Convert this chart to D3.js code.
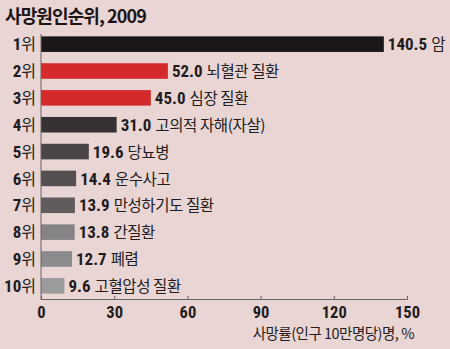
<!DOCTYPE html>
<html><head><meta charset="utf-8">
<script src="https://cdn.jsdelivr.net/npm/d3@7"></script>
<style>
body{margin:0;background:#e9d5d4;}
svg{display:block;}
</style></head>
<body>
<script>
const ranks = ["1","2","3","4","5","6","7","8","9","10"];
const causes = ["암","뇌혈관 질환","심장 질환","고의적 자해(자살)","당뇨병","운수사고","만성하기도 질환","간질환","폐렴","고혈압성 질환"];
const values = [140.5,52.0,45.0,31.0,19.6,14.4,13.9,13.8,12.7,9.6];
const colors = ["#1b1617","#d42a2b","#d42a2b","#363132","#4a4647","#545051","#605c5d","#858386","#8b8a8d","#9b9a9d"];
const ticks = [0,30,60,90,120,150];
const title = "사망원인순위, 2009";
const axisTitle = "사망률(인구 10만명당)명, %";

const W=450,H=349;
const svg=d3.select("body").append("svg").attr("width",W).attr("height",H);
svg.append("rect").attr("width",W).attr("height",H).attr("fill","#e9d5d4");

const x=d3.scaleLinear().domain([0,150]).range([41,407]);
const y=d3.scaleBand().domain(ranks).range([31,299]).paddingInner(0.42).paddingOuter(0.2);

const numFont="'Liberation Sans Narrow','Roboto Condensed','DejaVu Sans Condensed',sans-serif";
const krFont="'Noto Sans CJK KR',sans-serif";

svg.append("text").attr("x",5).attr("y",23)
  .attr("font-family",krFont).attr("font-weight",700).attr("font-size",18)
  .attr("fill","#1a1617").attr("letter-spacing",-0.9).text(title);

// bars
svg.selectAll("rect.bar").data(values).enter().append("rect")
  .attr("x",x(0)).attr("y",(d,i)=>y(ranks[i]))
  .attr("width",d=>x(d)-x(0)).attr("height",y.bandwidth())
  .attr("fill",(d,i)=>colors[i]);

// axes lines
svg.append("line").attr("x1",x(0)).attr("x2",x(0)).attr("y1",34).attr("y2",300)
  .attr("stroke","#6a6264").attr("stroke-width",1);
const xAxis=d3.axisBottom(x).tickValues(ticks).tickSize(-3).tickPadding(7);
const gx=svg.append("g").attr("transform","translate(0,299)").call(xAxis);
gx.select(".domain").attr("stroke","#6a6264");
gx.selectAll(".tick line").attr("stroke","#6a6264");
gx.selectAll("text").attr("font-family",numFont).attr("font-weight",700)
  .attr("font-size",16.5).attr("fill","#221c1d");

// rank labels
const rl=svg.selectAll("text.rank").data(ranks).enter().append("text")
  .attr("x",36).attr("y",r=>y(r)+y.bandwidth()/2).attr("dy","0.38em")
  .attr("text-anchor","end").attr("fill","#221c1d");
rl.append("tspan").attr("font-family",numFont).attr("font-weight",700).attr("font-size",17).text(r=>r);
rl.append("tspan").attr("font-family",krFont).attr("font-size",16).attr("font-weight",400).text("위");

// value labels
const vl=svg.selectAll("text.val").data(values).enter().append("text")
  .attr("x",d=>x(d)+4).attr("y",(d,i)=>y(ranks[i])+y.bandwidth()/2).attr("dy","0.38em")
  .attr("fill","#221c1d");
vl.append("tspan").attr("font-family",numFont).attr("font-weight",700).attr("font-size",17).text(d=>d.toFixed(1));
vl.append("tspan").attr("dx",4).attr("font-family",krFont).attr("font-weight",400).attr("font-size",15.5)
  .attr("letter-spacing",-0.4).text((d,i)=>causes[i]);

svg.append("text").attr("x",414).attr("y",339).attr("text-anchor","end")
  .attr("font-family",krFont).attr("font-size",14.5).attr("fill","#221c1d")
  .attr("letter-spacing",-0.5).text(axisTitle);
</script>
</body></html>
